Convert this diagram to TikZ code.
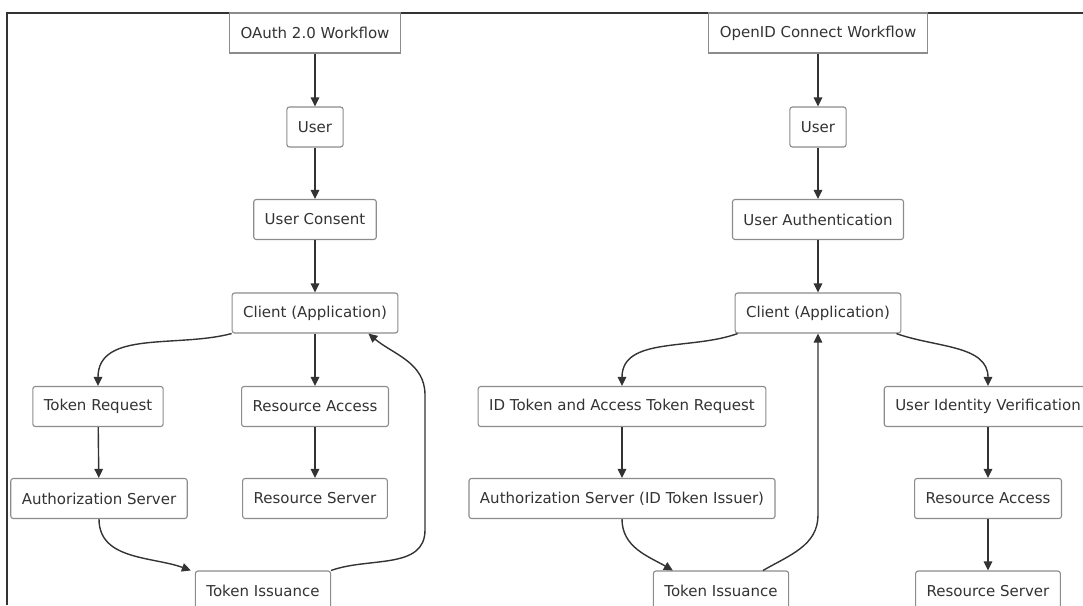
\documentclass[tikz,border=0pt]{standalone}
\usepackage{fontspec}
\setmainfont{DejaVu Sans}
\usetikzlibrary{arrows.meta}
\definecolor{edgegray}{HTML}{333333}
\definecolor{boxgray}{HTML}{8C8C8C}
\begin{document}
\begin{tikzpicture}[x=1pt,y=-1pt,
  box/.style={draw=boxgray, line width=1.1pt, fill=white, rounded corners=2.5pt,
    minimum height=40pt, inner xsep=11pt, text=edgegray,
    font=\fontsize{15}{17}\selectfont},
  titlebox/.style={box, rounded corners=0pt},
  flow/.style={draw=edgegray, line width=1.4pt, -{Triangle[length=9pt,width=8.5pt]}}]

\def \leftx {315}
\def \rightx {818}
\def \rowa {33}
\def \rowb {127}
\def \rowc {219.5}
\def \rowd {313}
\def \rowe {406.5}
\def \rowf {498.5}
\def \rowg {591}

\clip (0,0) rectangle (1083,605);

\draw [edgegray, line width=1.4pt] (7,605) -- (7,13) -- (1090,13);

\node [titlebox] (oauth) at (\leftx,\rowa) {OAuth 2.0 Workflow};
\node [box] (userL) at (\leftx,\rowb) {User};
\node [box] (consent) at (\leftx,\rowc) {User Consent};
\node [box] (clientL) at (\leftx,\rowd) {Client (Application)};
\node [box] (treq) at (98,\rowe) {Token Request};
\node [box] (raccL) at (\leftx,\rowe) {Resource Access};
\node [box] (authL) at (99,\rowf) {Authorization Server};
\node [box] (rsrvL) at (\leftx,\rowf) {Resource Server};
\node [box] (tissL) at (263,\rowg) {Token Issuance};

\node [titlebox] (oidc) at (\rightx,\rowa) {OpenID Connect Workflow};
\node [box] (userR) at (\rightx,\rowb) {User};
\node [box] (authn) at (\rightx,\rowc) {User Authentication};
\node [box] (clientR) at (\rightx,\rowd) {Client (Application)};
\node [box] (idreq) at (622,\rowe) {ID Token and Access Token Request};
\node [box] (uiv) at (988,\rowe) {User Identity Verification};
\node [box] (authR) at (622,\rowf) {Authorization Server (ID Token Issuer)};
\node [box] (raccR) at (988,\rowf) {Resource Access};
\node [box] (tissR) at (721,\rowg) {Token Issuance};
\node [box] (rsrvR) at (988,\rowg) {Resource Server};

\coordinate (loopLa) at (425,530);
\coordinate (loopLb) at (425,395);
\coordinate (loopR) at (\rightx,515);

\draw [flow] (oauth) -- (userL);
\draw [flow] (userL) -- (consent);
\draw [flow] (consent) -- (clientL);
\draw [flow] (clientL.south west) to [out=195, in=90] (treq.north);
\draw [flow] (clientL) -- (raccL);
\draw [flow] (treq) -- (authL);
\draw [flow] (raccL) -- (rsrvL);
\draw [flow] (authL.south) to [out=-90, in=160] ([xshift=-4pt]tissL.north west);
\draw [flow] (tissL.north east) to [out=20, in=-90] (loopLa) -- (loopLb) to [out=90, in=-40] ([xshift=-30pt]clientL.south east);

\draw [flow] (oidc) -- (userR);
\draw [flow] (userR) -- (authn);
\draw [flow] (authn) -- (clientR);
\draw [flow] ([xshift=3pt]clientR.south west) to [out=200, in=90] (idreq.north);
\draw [flow] ([xshift=-5pt]clientR.south east) to [out=-20, in=90] (uiv.north);
\draw [flow] (idreq) -- (authR);
\draw [flow] (authR.south) to [out=-90, in=150] ([xshift=20pt]tissR.north west);
\draw [flow] ([xshift=42pt]tissR.north) to [out=30, in=-90] (loopR) -- (clientR.south);
\draw [flow] (uiv) -- (raccR);
\draw [flow] (raccR) -- (rsrvR);
\end{tikzpicture}
\end{document}
